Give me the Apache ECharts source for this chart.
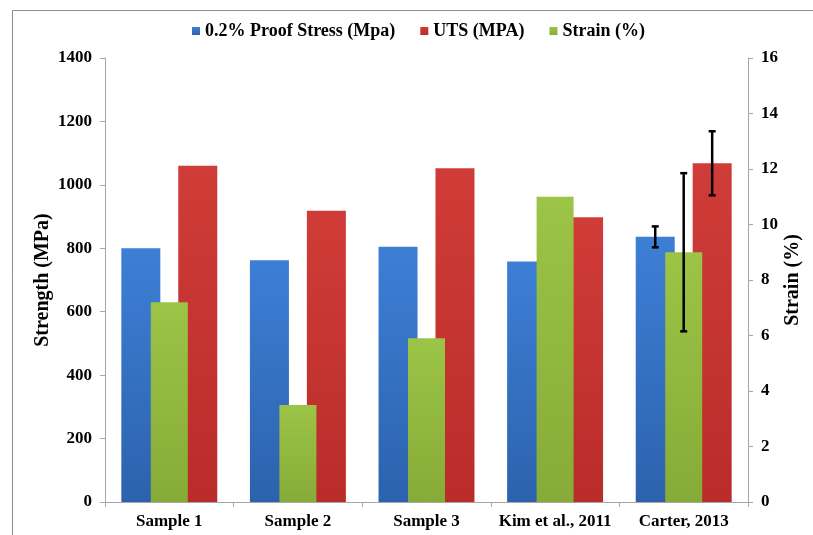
<!DOCTYPE html>
<html>
<head>
<meta charset="utf-8">
<script src="https://cdn.jsdelivr.net/npm/echarts@6/dist/echarts.min.js"></script>
<style>html,body{margin:0;padding:0;background:#fff;}#c{width:813px;height:535px;}</style>
</head>
<body>
<div id="c"></div>
<script>
var categories = ['Sample 1', 'Sample 2', 'Sample 3', 'Kim et al., 2011', 'Carter, 2013'];
var proofStress = [800, 762, 805, 758, 836];
var uts = [1060, 918, 1052, 898, 1068];
var strain = [7.2, 3.5, 5.9, 11.0, 9.0];
var proofErr = [null, null, null, null, 33];
var utsErr = [null, null, null, null, 101];
var strainErr = [null, null, null, null, 2.85];
var leftTicks = [0, 1400, 200];
var rightTicks = [0, 16, 2];

var FONT = '"Liberation Serif", "Times New Roman", serif';
var BAR_W = 39;
var GAP_PCT = 46;
var OFFSET = (BAR_W + BAR_W * GAP_PCT / 100) / 2;

function grad(top, bottom) {
  return new echarts.graphic.LinearGradient(0, 0, 0, 1, [
    {offset: 0, color: top}, {offset: 1, color: bottom}
  ]);
}

function errItem(offset) {
  return function (params, api) {
    var e = api.value(2);
    if (e === null || e === undefined || isNaN(e)) return;
    var v = api.value(1);
    var hi = api.coord([api.value(0), v + e]);
    var lo = api.coord([api.value(0), v - e]);
    var x = hi[0] + offset;
    var cap = 3.5;
    var st = {stroke: '#000', lineWidth: 2.5};
    return {
      type: 'group',
      children: [
        {type: 'line', shape: {x1: x, y1: hi[1], x2: x, y2: lo[1]}, style: st},
        {type: 'line', shape: {x1: x - cap, y1: hi[1], x2: x + cap, y2: hi[1]}, style: st},
        {type: 'line', shape: {x1: x - cap, y1: lo[1], x2: x + cap, y2: lo[1]}, style: st}
      ]
    };
  };
}

function errData(vals, errs) {
  return vals.map(function (v, i) { return [i, v, errs[i] === null ? NaN : errs[i]]; });
}

var axisLabelStyle = {fontFamily: FONT, fontWeight: 'bold', fontSize: 17, color: '#000'};
var axisLineStyle = {lineStyle: {color: '#a6a6a6', width: 1}};
var plain = function (v) { return String(v); };

var chart = echarts.init(document.getElementById('c'));
chart.setOption({
  animation: false,
  backgroundColor: '#fff',
  graphic: [
    {type: 'line', shape: {x1: 12.5, y1: 10.5, x2: 813, y2: 10.5}, style: {stroke: '#8c8c8c', lineWidth: 1}},
    {type: 'line', shape: {x1: 12.5, y1: 10.5, x2: 12.5, y2: 535}, style: {stroke: '#8c8c8c', lineWidth: 1}}
  ],
  legend: {
    top: 17,
    left: 187,
    itemWidth: 8,
    itemHeight: 8,
    itemGap: 25,
    icon: 'rect',
    textStyle: {fontFamily: FONT, fontWeight: 'bold', fontSize: 18, color: '#000'},
    data: ['0.2% Proof Stress (Mpa)', 'UTS (MPA)', 'Strain (%)']
  },
  grid: {left: 105, right: 65, top: 58, bottom: 33, outerBoundsMode: 'none', containLabel: false},
  xAxis: [
    {
      type: 'category', data: categories,
      axisLine: axisLineStyle,
      axisTick: {show: true, length: 5, lineStyle: {color: '#a6a6a6'}},
      axisLabel: Object.assign({margin: 11, interval: 0, hideOverlap: false}, axisLabelStyle)
    },
    {
      type: 'category', data: categories, show: false, position: 'bottom'
    }
  ],
  yAxis: [
    {
      type: 'value', min: leftTicks[0], max: leftTicks[1], interval: leftTicks[2],
      name: 'Strength (MPa)', nameLocation: 'middle', nameGap: 52, nameRotate: 90,
      nameMoveOverlap: false,
      nameTextStyle: {fontFamily: FONT, fontWeight: 'bold', fontSize: 20, color: '#000'},
      axisLine: {show: true, lineStyle: {color: '#a6a6a6'}},
      axisTick: {show: true, length: 5, lineStyle: {color: '#a6a6a6'}},
      splitLine: {show: false},
      axisLabel: Object.assign({margin: 13, formatter: plain}, axisLabelStyle)
    },
    {
      type: 'value', min: rightTicks[0], max: rightTicks[1], interval: rightTicks[2],
      name: 'Strain (%)', nameLocation: 'middle', nameGap: 35, nameRotate: 90,
      nameMoveOverlap: false,
      nameTextStyle: {fontFamily: FONT, fontWeight: 'bold', fontSize: 20, color: '#000'},
      position: 'right',
      axisLine: {show: true, lineStyle: {color: '#a6a6a6'}},
      axisTick: {show: true, length: 5, lineStyle: {color: '#a6a6a6'}},
      splitLine: {show: false},
      axisLabel: Object.assign({margin: 13, formatter: plain}, axisLabelStyle)
    }
  ],
  series: [
    {
      name: '0.2% Proof Stress (Mpa)', type: 'bar', xAxisIndex: 0, yAxisIndex: 0,
      data: proofStress, barWidth: BAR_W, barGap: GAP_PCT + '%', z: 2,
      itemStyle: {color: grad('#3d7fd6', '#2c62ad')}
    },
    {
      name: 'UTS (MPA)', type: 'bar', xAxisIndex: 0, yAxisIndex: 0,
      data: uts, barWidth: BAR_W, barGap: GAP_PCT + '%', z: 2,
      itemStyle: {color: grad('#d03c38', '#b92c2a')}
    },
    {
      name: 'Strain (%)', type: 'bar', xAxisIndex: 1, yAxisIndex: 1,
      data: strain, barWidth: 37, z: 3,
      itemStyle: {color: grad('#9cc446', '#86ab38')}
    },
    {
      type: 'custom', xAxisIndex: 0, yAxisIndex: 0, z: 10,
      renderItem: errItem(-OFFSET), data: errData(proofStress, proofErr)
    },
    {
      type: 'custom', xAxisIndex: 0, yAxisIndex: 0, z: 10,
      renderItem: errItem(OFFSET), data: errData(uts, utsErr)
    },
    {
      type: 'custom', xAxisIndex: 1, yAxisIndex: 1, z: 10,
      renderItem: errItem(0), data: errData(strain, strainErr)
    }
  ]
});
</script>
</body>
</html>
